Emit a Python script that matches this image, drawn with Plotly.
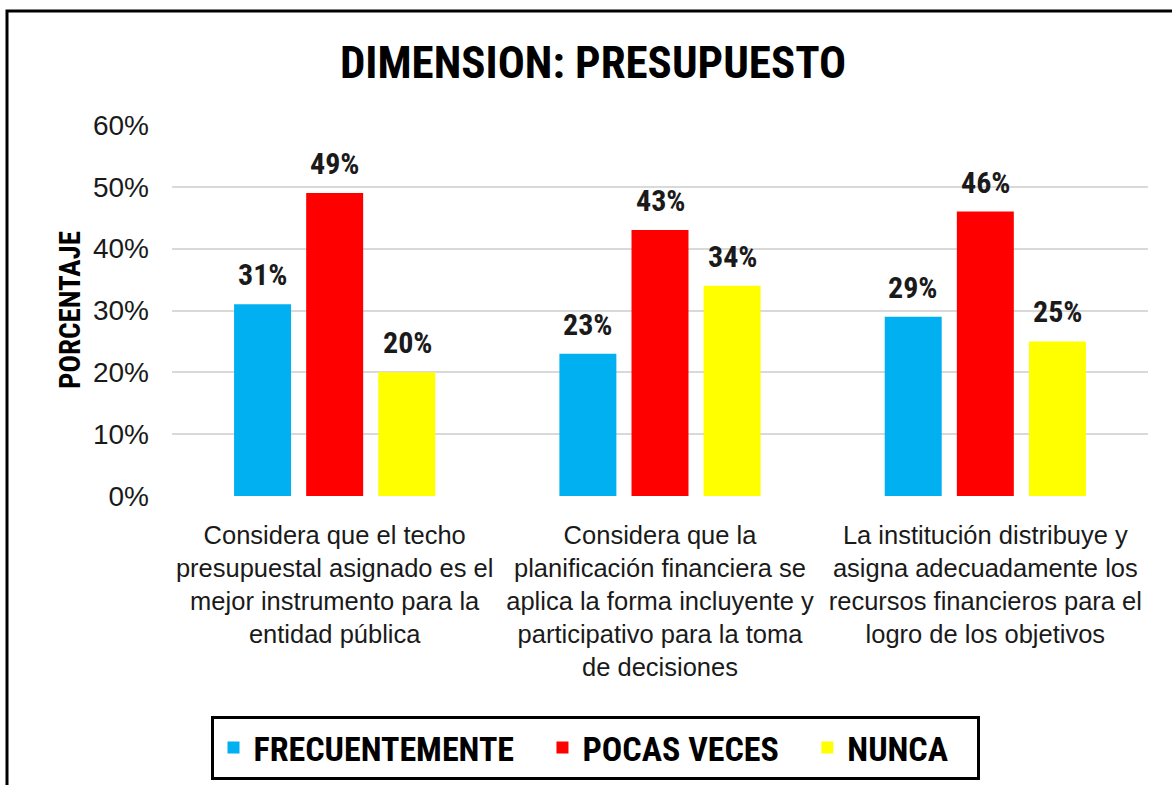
import plotly.graph_objects as go

categories = [
    "Considera que el techo<br>presupuestal asignado es el<br>mejor instrumento para la<br>entidad pública",
    "Considera que la<br>planificación financiera se<br>aplica la forma incluyente y<br>participativo para la toma<br>de decisiones",
    "La institución distribuye y<br>asigna adecuadamente los<br>recursos financieros para el<br>logro de los objetivos",
]
series_names = ["FRECUENTEMENTE", "POCAS VECES", "NUNCA"]
frecuentemente = [0.31, 0.23, 0.29]
pocas_veces = [0.49, 0.43, 0.46]
nunca = [0.20, 0.34, 0.25]
tick_vals = [0, 0.1, 0.2, 0.3, 0.4, 0.5, 0.6]
tick_text = ["0%", "10%", "20%", "30%", "40%", "50%", "60%"]

colors = ["#00B0F0", "#FF0000", "#FFFF00"]
NARROW = "Liberation Sans Narrow, Arial Narrow, Roboto Condensed, Liberation Sans, Arial, sans-serif"
REG = "Liberation Sans, Arial, sans-serif"
PAD = "\u00a0\u00a0\u00a0"

fig = go.Figure()
all_series = [frecuentemente, pocas_veces, nunca]
for name, vals, col in zip(series_names, all_series, colors):
    fig.add_trace(go.Bar(x=categories, y=vals, name=f"<b>{name}</b>{PAD}",
                         marker=dict(color=col, line=dict(width=0))))

annotations = []
for i, vals in enumerate(all_series):
    for c, v in zip(categories, vals):
        annotations.append(dict(
            x=c, y=v, xref="x", yref="y", text=f"<b>{round(v*100)}%</b>",
            showarrow=False, yanchor="bottom", xanchor="center",
            xshift=(i - 1) * 72.5, yshift=10,
            font=dict(family=NARROW, size=30, color="#1a1a1a"),
        ))

annotations.append(dict(
    x=-0.105, y=0.5, xref="paper", yref="paper", text="<b>PORCENTAJE</b>",
    showarrow=False, textangle=-90, xanchor="center", yanchor="middle",
    font=dict(family=NARROW, size=29, color="black"),
))

fig.update_layout(
    width=1172, height=785,
    margin=dict(l=172, r=24, t=125, b=289),
    paper_bgcolor="white", plot_bgcolor="white",
    title=dict(text="<b>DIMENSION: PRESUPUESTO</b>", x=0.506, xanchor="center",
               y=1 - 62 / 785, yanchor="middle", yref="container",
               font=dict(family=NARROW, size=45, color="black")),
    barmode="group", bargap=0.335, bargroupgap=0.21,
    showlegend=True,
    legend=dict(orientation="h", x=595 / 1172, xref="container", xanchor="center",
                y=1 - 716 / 785, yref="container", yanchor="top",
                bordercolor="black", borderwidth=3, bgcolor="white",
                font=dict(family=NARROW, size=34, color="black"),
                itemsizing="constant", traceorder="normal"),
    annotations=annotations,
    shapes=[dict(type="rect", xref="paper", yref="paper",
                 x0=(7 - 172) / 976, x1=1.2, y0=-0.9, y1=(496 - 11) / 371,
                 line=dict(color="black", width=3), fillcolor="rgba(0,0,0,0)", layer="below")],
)
fig.update_xaxes(showgrid=False, showline=False, ticks="", ticklabelstandoff=21, automargin=False,
                 tickfont=dict(family=REG, size=25.5, color="#1a1a1a"))
fig.update_yaxes(range=[0, 0.6], tickvals=tick_vals, ticktext=tick_text, automargin=False,
                 showgrid=True, gridcolor="#D9D9D9", gridwidth=2, zeroline=False,
                 showline=False, ticks="", ticklabelstandoff=22,
                 tickfont=dict(family=REG, size=28, color="#1a1a1a"))

fig.write_html("out.html", config={"displayModeBar": False},
               post_script="document.body.style.margin='0';")
